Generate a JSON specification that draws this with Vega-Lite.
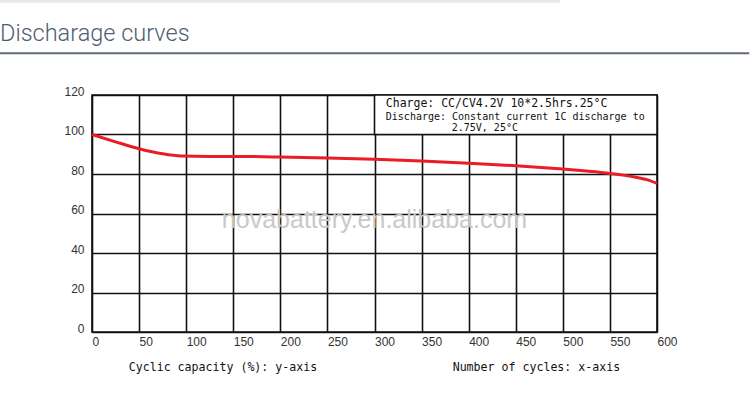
{
  "$schema": "https://vega.github.io/schema/vega-lite/v6.json",
  "width": 565,
  "height": 237,
  "autosize": "none",
  "padding": {"left": 92, "top": 95, "right": 93, "bottom": 68},
  "background": "white",
  "config": {
    "view": {"stroke": "#111", "strokeWidth": 1.6},
    "axis": {
      "grid": true,
      "gridColor": "#111",
      "gridWidth": 1.6,
      "gridOpacity": 1,
      "domain": false,
      "ticks": false,
      "labelFont": "Liberation Sans",
      "labelFontSize": 12,
      "labelColor": "#333",
      "title": null
    }
  },
  "datasets": {
    "curve": [
      {"x": 0, "y": 100},
      {"x": 25, "y": 96.3},
      {"x": 50, "y": 92.8},
      {"x": 75, "y": 90.2},
      {"x": 95, "y": 89.1},
      {"x": 125, "y": 88.9},
      {"x": 150, "y": 88.9},
      {"x": 200, "y": 88.6},
      {"x": 250, "y": 88.1},
      {"x": 300, "y": 87.5},
      {"x": 350, "y": 86.6},
      {"x": 400, "y": 85.5},
      {"x": 450, "y": 84.2},
      {"x": 500, "y": 82.5},
      {"x": 525, "y": 81.5},
      {"x": 550, "y": 80.3},
      {"x": 575, "y": 78.6},
      {"x": 590, "y": 77},
      {"x": 600, "y": 75.2}
    ],
    "heading": [{"x": -97.7, "y": 147.2, "label": "Discharage curves"}],
    "separator": [{"x": -98, "x2": 698, "y": 141.1}],
    "shadow": [{"x": -98, "x2": 497, "y": 167.5}],
    "box": [{"x": 300, "x2": 600, "y": 100, "y2": 120}],
    "chargeNote": [{"x": 312, "y": 115.4, "label": "Charge: CC/CV4.2V 10*2.5hrs.25°C"}],
    "dischargeNote": [
      {"x": 312, "y": 108.9, "label": "Discharge: Constant current 1C discharge to"},
      {"x": 382, "y": 103.4, "label": "2.75V, 25°C"}
    ],
    "axisNotes": [
      {"x": 39, "y": -18.2, "label": "Cyclic capacity (%): y-axis"},
      {"x": 383, "y": -18.2, "label": "Number of cycles: x-axis"}
    ],
    "watermark": [{"x": 300, "y": 56.7, "label": "novabattery.en.alibaba.com"}]
  },
  "encoding": {
    "x": {
      "field": "x",
      "type": "quantitative",
      "scale": {"domain": [0, 600], "nice": false, "zero": false},
      "axis": {
        "values": [0, 50, 100, 150, 200, 250, 300, 350, 400, 450, 500, 550, 600],
        "labelAlign": "left",
        "labelBaseline": "top",
        "labelPadding": 4,
        "labelFlush": false,
        "labelOverlap": false
      }
    },
    "y": {
      "field": "y",
      "type": "quantitative",
      "scale": {"domain": [0, 120], "nice": false, "zero": false},
      "axis": {
        "values": [0, 20, 40, 60, 80, 100, 120],
        "labelBaseline": "alphabetic",
        "labelPadding": 8,
        "labelFlush": false
      }
    }
  },
  "layer": [
    {
      "data": {"name": "shadow"},
      "mark": {"type": "rule", "color": "#e9e9e9", "strokeWidth": 3},
      "encoding": {"x2": {"field": "x2"}}
    },
    {
      "data": {"name": "heading"},
      "mark": {
        "type": "text",
        "font": "Roboto",
        "fontWeight": 300,
        "fontSize": 23.5,
        "color": "#4f5d70",
        "align": "left",
        "baseline": "alphabetic"
      },
      "encoding": {"text": {"field": "label"}}
    },
    {
      "data": {"name": "separator"},
      "mark": {"type": "rule", "color": "#5f6b7a", "strokeWidth": 2},
      "encoding": {"x2": {"field": "x2"}}
    },
    {
      "data": {"name": "watermark"},
      "mark": {
        "type": "text",
        "font": "Liberation Sans",
        "fontSize": 25,
        "color": "#c9c9c9",
        "align": "center",
        "baseline": "middle"
      },
      "encoding": {"text": {"field": "label"}}
    },
    {
      "data": {"name": "curve"},
      "mark": {"type": "line", "color": "#ea1c24", "strokeWidth": 3, "interpolate": "monotone"}
    },
    {
      "data": {"name": "box"},
      "mark": {"type": "rect", "fill": "white", "stroke": "#111", "strokeWidth": 1.6},
      "encoding": {"x2": {"field": "x2"}, "y2": {"field": "y2"}}
    },
    {
      "data": {"name": "chargeNote"},
      "mark": {
        "type": "text",
        "font": "DejaVu Sans Mono",
        "fontSize": 11.5,
        "color": "#111",
        "align": "left",
        "baseline": "middle"
      },
      "encoding": {"text": {"field": "label"}}
    },
    {
      "data": {"name": "dischargeNote"},
      "mark": {
        "type": "text",
        "font": "DejaVu Sans Mono",
        "fontSize": 10,
        "color": "#111",
        "align": "left",
        "baseline": "middle"
      },
      "encoding": {"text": {"field": "label"}}
    },
    {
      "data": {"name": "axisNotes"},
      "mark": {
        "type": "text",
        "font": "DejaVu Sans Mono",
        "fontSize": 11.6,
        "color": "#111",
        "align": "left",
        "baseline": "middle"
      },
      "encoding": {"text": {"field": "label"}}
    }
  ]
}
